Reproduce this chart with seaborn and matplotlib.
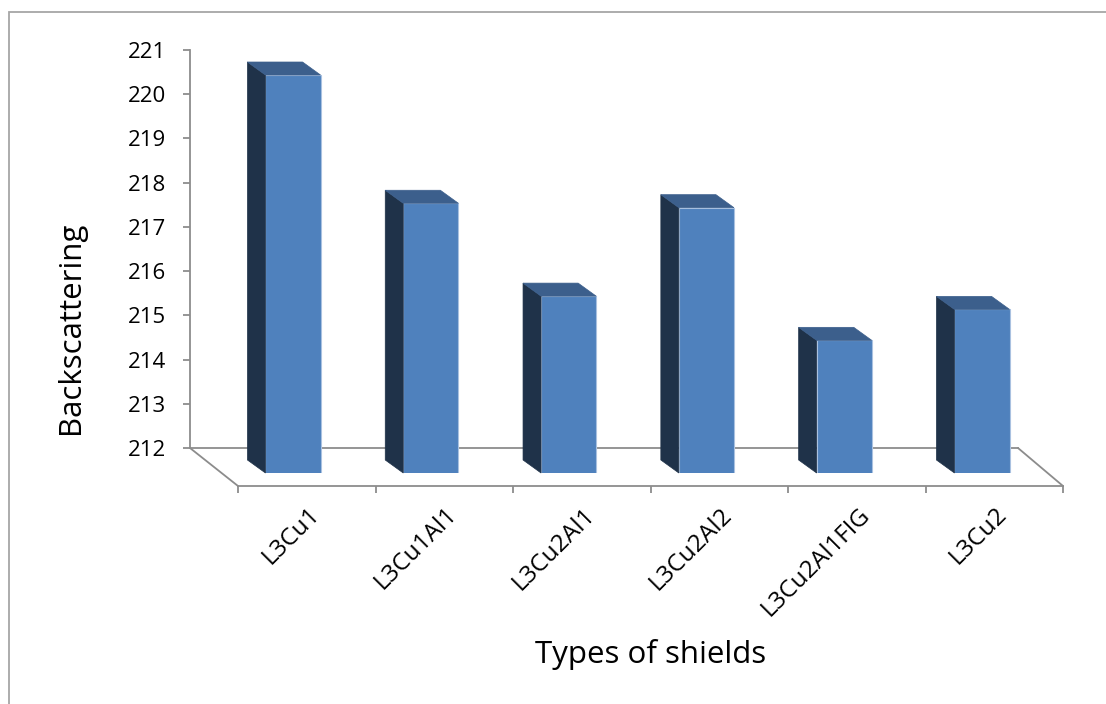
import matplotlib
matplotlib.use("Agg")
import matplotlib.pyplot as plt
from matplotlib.patches import Polygon, Rectangle, ConnectionPatch
from matplotlib.transforms import IdentityTransform, ScaledTranslation
import seaborn as sns
import numpy as np

# ---- data ----
shields = ["L3Cu1", "L3Cu1Al1", "L3Cu2Al1", "L3Cu2Al2", "L3Cu2Al1FIG", "L3Cu2"]
backscattering = [221.0, 218.1, 216.0, 218.0, 215.0, 215.7]
y_ticks = list(range(212, 222))
y_min, y_max = 212, 221

# ---- style ----
sns.set_style("white")
plt.rcParams["font.family"] = ["Open Sans", "DejaVu Sans"]
plt.rcParams["text.color"] = "black"
plt.rcParams["xtick.color"] = "black"
plt.rcParams["ytick.color"] = "black"

FRONT = "#4F81BD"
SIDE = "#1F3249"
TOP = "#3C5F8C"
EDGE = "#A9C1E0"
GRID = "#8C8C8C"

W, H = 1106, 704
fig = plt.figure(figsize=(W / 100, H / 100), dpi=100)
fig.patch.set_facecolor("white")


def fx(px):
    return px / W


def fy(py):
    return 1 - py / H


# back wall: value axis
ax_wall = fig.add_axes([fx(190), fy(448), fx(828), 398 / H])
ax_wall.set_facecolor("none")
ax_wall.set_xlim(-0.5, 5.5)
ax_wall.set_ylim(y_min, y_max)
ax_wall.set_xticks([])
ax_wall.set_yticks(y_ticks)
ax_wall.set_yticklabels([str(t) for t in y_ticks])
for side in ("top", "right"):
    ax_wall.spines[side].set_visible(False)
for side in ("left", "bottom"):
    ax_wall.spines[side].set_color(GRID)
    ax_wall.spines[side].set_linewidth(1.3)
ax_wall.tick_params(axis="y", left=True, direction="out", length=5, width=1.3,
                    color=GRID, labelsize=16, pad=12, labelcolor="black")

# front edge of the floor: category axis
ax_floor = fig.add_axes([fx(238), fy(486), fx(825), 398 / H])
ax_floor.set_facecolor("none")
ax_floor.set_xlim(-0.5, 5.5)
ax_floor.set_ylim(y_min, y_max)
ax_floor.set_yticks([])
for side in ("top", "right", "left"):
    ax_floor.spines[side].set_visible(False)
ax_floor.spines["bottom"].set_color(GRID)
ax_floor.spines["bottom"].set_linewidth(1.3)
ax_floor.set_xticks(np.arange(len(shields)))
ax_floor.set_xticks(np.arange(-0.5, len(shields)), minor=True)
ax_floor.set_xticklabels(shields)
ax_floor.tick_params(axis="x", which="major", bottom=True, length=0, pad=12,
                     labelsize=17.5, labelcolor="black")
ax_floor.tick_params(axis="x", which="minor", bottom=True, direction="out",
                     length=5, width=1.3, color=GRID)
shift = ScaledTranslation(1 / 100, 0, fig.dpi_scale_trans)
for lab in ax_floor.get_xticklabels():
    lab.set_rotation(45)
    lab.set_ha("right")
    lab.set_va("top")
    lab.set_rotation_mode("anchor")
    lab.set_transform(lab.get_transform() + shift)

# floor side edges joining the wall to the front edge
for xe in (-0.5, 5.5):
    fig.add_artist(ConnectionPatch(xyA=(xe, y_min), coordsA=ax_wall.transData,
                                   xyB=(xe, y_min), coordsB=ax_floor.transData,
                                   color=GRID, lw=1.3))

# plane of the bar fronts
ax = fig.add_axes([fx(224.1), fy(473), fx(826.8), 398 / H])
ax.set_facecolor("none")
sns.barplot(x=shields, y=backscattering, ax=ax, color=FRONT, saturation=1,
            width=0.4, edgecolor=EDGE, linewidth=0.8)
ax.set_xlim(-0.5, 5.5)
ax.set_ylim(y_min, y_max)
ax.set_xticks([])
ax.set_yticks([])
ax.set_xlabel("")
ax.set_ylabel("")
for s in ax.spines.values():
    s.set_visible(False)

# depth faces of each bar (side and top)
dx, dy = -18, 13
for bar in ax.patches:
    x0 = bar.get_x()
    x1 = x0 + bar.get_width()
    top = bar.get_height()
    (ax0, ab), (ax1, at) = ax.transData.transform([(x0, y_min), (x1, top)])
    side = Polygon([(ax0, ab), (ax0 + dx, ab + dy), (ax0 + dx, at + dy), (ax0, at)],
                   closed=True, facecolor=SIDE, edgecolor=SIDE, lw=0.5,
                   transform=IdentityTransform(), clip_on=False, zorder=1)
    cap = Polygon([(ax0, at), (ax0 + dx, at + dy), (ax1 + dx, at + dy), (ax1, at)],
                  closed=True, facecolor=TOP, edgecolor=TOP, lw=0.5,
                  transform=IdentityTransform(), clip_on=False, zorder=1)
    fig.add_artist(side)
    fig.add_artist(cap)

# axis titles
fig.text(fx(71), fy(328), "Backscattering", rotation=90, ha="center",
         va="center", fontsize=22.5)
fig.text(fx(651), fy(655), "Types of shields", ha="center", va="center",
         fontsize=22.5)

# chart area border
fig.add_artist(Rectangle((fx(9), -0.2), 1.2, fy(12) + 0.2, fill=False,
                         edgecolor="#A6A6A6", lw=1.3, transform=fig.transFigure))

fig.savefig("out.png", dpi=100)
